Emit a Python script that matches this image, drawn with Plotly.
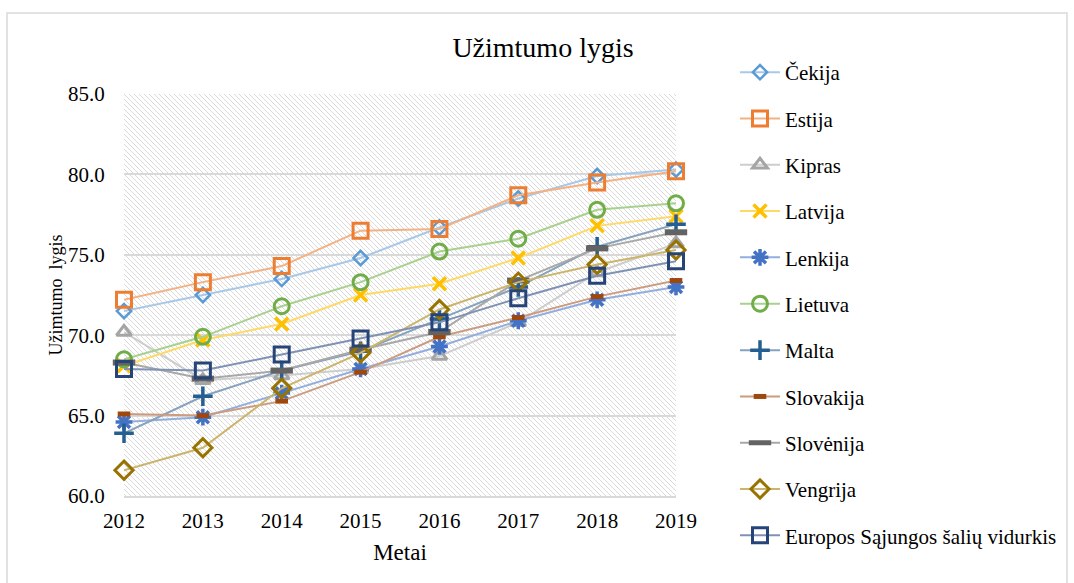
import base64
import plotly.graph_objects as go

years = [2012, 2013, 2014, 2015, 2016, 2017, 2018, 2019]

cekija    = [71.5, 72.5, 73.5, 74.8, 76.7, 78.5, 79.9, 80.3]
estija    = [72.2, 73.3, 74.3, 76.5, 76.6, 78.7, 79.5, 80.2]
kipras    = [70.2, 67.2, 67.5, 67.9, 68.7, 70.8, 73.9, 75.7]
latvija   = [68.1, 69.7, 70.7, 72.5, 73.2, 74.8, 76.8, 77.4]
lenkija   = [64.6, 64.9, 66.4, 67.9, 69.3, 70.9, 72.2, 73.0]
lietuva   = [68.5, 69.9, 71.8, 73.3, 75.2, 76.0, 77.8, 78.2]
malta     = [63.9, 66.2, 67.8, 69.0, 71.0, 73.0, 75.5, 76.9]
slovakija = [65.1, 65.0, 65.9, 67.7, 69.9, 71.1, 72.4, 73.4]
slovenija = [68.3, 67.3, 67.8, 69.1, 70.2, 73.4, 75.4, 76.4]
vengrija  = [61.6, 63.0, 66.7, 68.9, 71.6, 73.3, 74.4, 75.3]
es_vid    = [67.9, 67.8, 68.8, 69.8, 70.8, 72.3, 73.7, 74.6]

names = ["Čekija", "Estija", "Kipras", "Latvija", "Lenkija", "Lietuva",
         "Malta", "Slovakija", "Slovėnija", "Vengrija",
         "Europos Sąjungos šalių vidurkis"]
series = [cekija, estija, kipras, latvija, lenkija, lietuva, malta,
          slovakija, slovenija, vengrija, es_vid]

# (marker color, line color, symbol, size, marker line width)
styles = [
    ("#5B9BD5", "#A8C8E8", "diamond-open", 11, 2.5),
    ("#ED7D31", "#F4B183", "square-open", 15, 3),
    ("#A5A5A5", "#CDCDCD", "triangle-up-open", 13, 3),
    ("#FFC000", "#FFD966", "x-thin", 13, 3.5),
    ("#4472C4", "#93AEDE", "asterisk", 14, 3.5),
    ("#70AD47", "#A9D18E", "circle-open", 15, 3),
    ("#255E91", "#86A2BF", "cross-thin", 14, 3.5),
    ("#9E480E", "#CC9C80", "line-ew", 9, 5),
    ("#636363", "#A8A8A8", "line-ew", 16, 6),
    ("#997300", "#CCB46C", "diamond-open", 14, 3),
    ("#264478", "#7F92B5", "square-open", 15, 3),
]

serif = "Liberation Serif"

fig = go.Figure()
for i, (nm, vals, st) in enumerate(zip(names, series, styles)):
    mc, lc, sym, sz, lw = st
    fig.add_trace(go.Scatter(
        x=years, y=vals, name=nm, mode="lines+markers",
        legend="legend" if i < 6 else "legend2",
        legendgroup=f"g{i}",
        line=dict(color=lc, width=2),
        marker=dict(symbol=sym, size=sz, color=mc,
                    line=dict(color=mc, width=lw)),
        cliponaxis=False,
    ))

# hatch background
svg = ('<svg xmlns="http://www.w3.org/2000/svg" width="552" height="402">'
       '<defs><pattern id="p" width="5" height="5" patternUnits="userSpaceOnUse">'
       '<path d="M0,0 L5,5 M-1,4 L1,6 M4,-1 L6,1" stroke="#DADADA" stroke-width="1"/>'
       '</pattern></defs><rect width="100%" height="100%" fill="url(#p)"/></svg>')
src = "data:image/svg+xml;base64," + base64.b64encode(svg.encode()).decode()

L, R, T, B = 124, 676, 94, 496
W, H = 1074, 583
pw, ph = R - L, B - T

def px(x):
    return (x - L) / pw

def py(y):
    return (B - y) / ph

leg_common = dict(xref="container", yref="container", xanchor="left",
                  yanchor="top",
                  font=dict(family=serif, size=21, color="#000000"),
                  tracegroupgap=16, itemwidth=40,
                  bgcolor="rgba(0,0,0,0)")

fig.update_layout(
    width=W, height=H,
    margin=dict(l=L, r=W - R, t=T, b=H - B, pad=0),
    paper_bgcolor="white",
    plot_bgcolor="rgba(0,0,0,0)",
    font=dict(family=serif, color="#000000", size=20),
    title=dict(text="Užimtumo lygis", x=543 / W, xanchor="center",
               y=1 - 47 / H, yanchor="middle",
               font=dict(family=serif, size=28, color="#000000")),
    images=[dict(source=src, xref="paper", yref="paper", x=0, y=1,
                 sizex=1, sizey=1, sizing="stretch", layer="below",
                 xanchor="left", yanchor="top")],
    xaxis=dict(range=[years[0], years[-1]], tickvals=years,
               ticktext=[str(y) for y in years],
               showgrid=False, zeroline=False,
               showline=True, linecolor="#D9D9D9", linewidth=2,
               ticks="outside", ticklen=5, tickcolor="rgba(0,0,0,0)",
               tickfont=dict(family=serif, size=21),
               title=dict(text="Metai", standoff=12,
                          font=dict(family=serif, size=23))),
    yaxis=dict(range=[60, 85], dtick=5, tickformat=".1f",
               showgrid=True, gridcolor="#D9D9D9", gridwidth=2,
               zeroline=False, showline=False,
               ticks="outside", ticklen=14, tickcolor="rgba(0,0,0,0)",
               tickfont=dict(family=serif, size=21),
               title=dict(text="Užimtumo\u00a0 lygis", standoff=0,
                          font=dict(family=serif, size=18))),
    legend=dict(x=735 / W, y=1 - 52 / H, **leg_common),
    legend2=dict(x=735 / W, y=1 - 330 / H, **leg_common),
    showlegend=True,
    shapes=[dict(type="rect", xref="paper", yref="paper",
                 x0=px(7), x1=px(1067), y0=py(600), y1=py(13),
                 line=dict(color="#D9D9D9", width=1.5),
                 fillcolor="rgba(0,0,0,0)", layer="below")],
)

fig.write_html("out.html",
               config={"displayModeBar": False},
               post_script="document.body.style.margin='0';"
                           "document.body.style.overflow='hidden';")
